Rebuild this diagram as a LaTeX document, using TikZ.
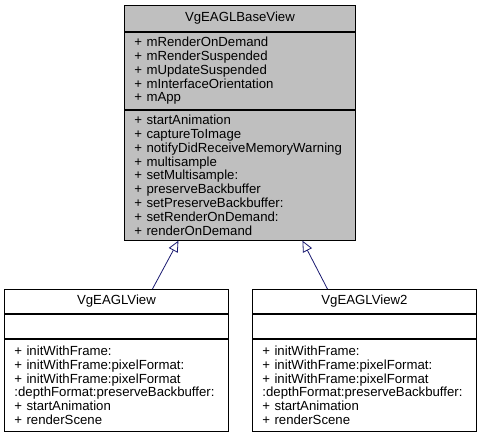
\documentclass[tikz,border=0pt]{standalone}
\usepackage{fontspec}
\setmainfont{Liberation Sans}
\usetikzlibrary{arrows.meta}
\definecolor{boxgray}{HTML}{BFBFBF}
\definecolor{edgeblue}{HTML}{191970}
\tikzset{
  part/.style={draw=black, line width=0.9pt, rectangle, inner xsep=0pt, inner ysep=0pt, anchor=north west,
    font=\fontsize{13.2}{13.8}\selectfont},
  titlepart/.style={part, align=center},
  listpart/.style={part, align=left, text width=#1, inner xsep=10pt},
  inherit/.style={draw=edgeblue, line width=0.8pt, -{Triangle[open, length=11pt, width=10pt]}}
}
\begin{document}
\begin{tikzpicture}[x=1pt,y=1pt]
\useasboundingbox (0,0) rectangle (480,-435);
% base class
\node[titlepart, fill=boxgray, minimum width=231pt, minimum height=26pt] (bt) at (124,-5) {VgEAGLBaseView};
\node[listpart=211pt, fill=boxgray, minimum width=231pt, minimum height=77pt] (ba) at (bt.south west) {+ mRenderOnDemand\\+ mRenderSuspended\\+ mUpdateSuspended\\+ mInterfaceOrientation\\+ mApp};
\node[listpart=211pt, fill=boxgray, minimum width=231pt, minimum height=130pt] (bm) at (ba.south west) {+ startAnimation\\+ captureToImage\\+ notifyDidReceiveMemoryWarning\\+ multisample\\+ setMultisample:\\+ preserveBackbuffer\\+ setPreserveBackbuffer:\\+ setRenderOnDemand:\\+ renderOnDemand};
% left derived
\node[titlepart, fill=white, minimum width=224pt, minimum height=24pt] (lt) at (4,-289) {VgEAGLView};
\node[part, fill=white, minimum width=224pt, minimum height=24pt] (la) at (lt.south west) {};
\node[listpart=204pt, fill=white, minimum width=224pt, minimum height=92pt] (lm) at (la.south west) {+ initWithFrame:\\+ initWithFrame:pixelFormat:\\+ initWithFrame:pixelFormat\\:depthFormat:preserveBackbuffer:\\+ startAnimation\\+ renderScene};
% right derived
\node[titlepart, fill=white, minimum width=224pt, minimum height=24pt] (rt) at (252,-289) {VgEAGLView2};
\node[part, fill=white, minimum width=224pt, minimum height=24pt] (ra) at (rt.south west) {};
\node[listpart=204pt, fill=white, minimum width=224pt, minimum height=92pt] (rm) at (ra.south west) {+ initWithFrame:\\+ initWithFrame:pixelFormat:\\+ initWithFrame:pixelFormat\\:depthFormat:preserveBackbuffer:\\+ startAnimation\\+ renderScene};
% inheritance
\coordinate (lfrom) at ([xshift=36pt]lt.north);
\coordinate (lto) at ([xshift=-61.5pt]bm.south);
\coordinate (rfrom) at ([xshift=-37pt]rt.north);
\coordinate (rto) at ([xshift=62.5pt]bm.south);
\draw[inherit] (lfrom) -- (lto);
\draw[inherit] (rfrom) -- (rto);
\end{tikzpicture}
\end{document}
